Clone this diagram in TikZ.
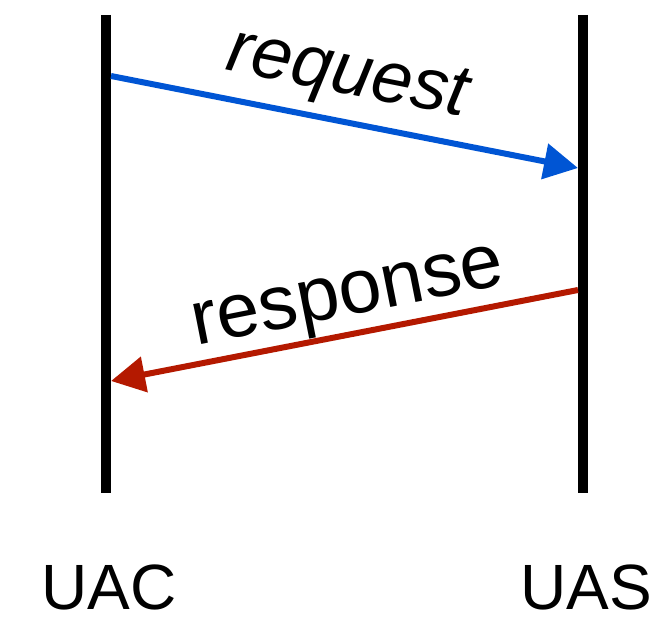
\documentclass[tikz,border=0pt]{standalone}
\usepackage{fontspec}
\setmainfont{Liberation Sans}
\usetikzlibrary{arrows.meta}

\definecolor{reqblue}{RGB}{0,85,212}
\definecolor{resred}{RGB}{180,25,0}

\begin{document}
\begin{tikzpicture}[x=1pt,y=-1pt,
	lifeline/.style={line width=10pt,black},
	msg/.style={line width=6pt,-{Triangle[length=34pt,width=35pt]}},
	actor/.style={anchor=base,inner sep=0pt,font=\fontsize{64}{70}\selectfont},
	msglabel/.style={anchor=south,font=\fontsize{73}{80}\selectfont}]
	\useasboundingbox (0,0) rectangle (651,620);

	\node[actor] (uac) at (109,609) {UAC};
	\node[actor] (uas) at (586,609) {UAS};

	\coordinate (uactop) at (106,15);
	\coordinate (uacbot) at (106,493);
	\coordinate (uastop) at (583,15);
	\coordinate (uasbot) at (583,493);

	\coordinate (reqa) at (111,76);
	\coordinate (reqb) at (578,168);
	\coordinate (resa) at (578,290);
	\coordinate (resb) at (111,381);

	\draw[lifeline] (uactop) -- (uacbot);
	\draw[lifeline] (uastop) -- (uasbot);

	\path[msg,draw=reqblue,fill=reqblue] (reqa) -- node[msglabel,pos=0.488,inner sep=10pt,rotate=-11.2]{\itshape request} (reqb);
	\path[msg,draw=resred,fill=resred] (resa) -- node[msglabel,pos=0.477,inner sep=0pt,rotate=11.2,font=\fontsize{77}{84}\selectfont]{response} (resb);
\end{tikzpicture}
\end{document}
